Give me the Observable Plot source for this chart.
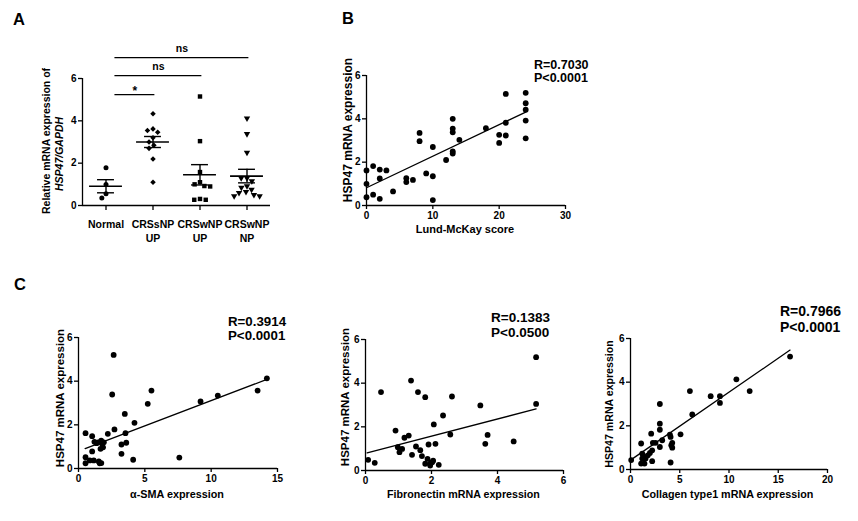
<!DOCTYPE html>
<html><head><meta charset="utf-8">
<script src="https://cdn.jsdelivr.net/npm/d3@7"></script>
<script src="https://cdn.jsdelivr.net/npm/@observablehq/plot@0.6"></script>
<style>
body{margin:0;background:#fff;}
#root{position:relative;width:858px;height:521px;overflow:hidden;background:#fff;}
#root svg{position:absolute;overflow:visible;max-width:none!important;}
</style></head><body><div id="root"></div>
<script>
// ---------- Panel A data ----------
const groupsA = ["Normal", "CRSsNP UP", "CRSwNP UP", "CRSwNP NP"];
const tickLabelsA = ["Normal", "CRSsNP\nUP", "CRSwNP\nUP", "CRSwNP\nNP"];
const normalA = [1.78, 0.99, 0.55, 0.36];
const crssnpUpA = [4.33, 3.62, 3.54, 3.46, 3.2, 3.0, 2.85, 2.7, 2.2, 1.1];
const crswnpUpA = [5.15, 3.04, 1.58, 1.1, 1.0, 0.92, 0.9, 0.31, 0.27, 0.27];
const crswnpNpA = [4.12, 3.38, 2.5, 1.3, 1.3, 1.15, 0.92, 0.85, 0.75, 0.65, 0.6, 0.5, 0.45, 0.45];
const meanA = [0.91, 3.0, 1.45, 1.39];
const semA = [0.31, 0.26, 0.48, 0.32];
const bracketFromA = ["Normal", "Normal", "Normal"];
const bracketToA = ["CRSsNP UP", "CRSwNP UP", "CRSwNP NP"];
const bracketLevelA = [5.24, 6.14, 6.99];
const bracketTextA = ["*", "ns", "ns"];
const yTicksHSP = [0, 2, 4, 6];

// ---------- Panel B data ----------
const lundX = [0,0,0,1,1,2,2,2,3,4,6,6,7,8,8,9,10,10,10,12,13,13,13,13,13,14,18,20,20,21,21,21,24,24,24,24,24];
const lundY = [1.62,1.0,0.38,1.82,0.5,1.66,1.25,0.31,1.62,0.65,1.26,1.08,1.18,3.35,2.97,1.48,2.7,1.35,0.25,2.1,4.0,3.55,3.38,2.5,2.4,3.03,3.57,3.26,2.89,5.15,3.82,3.23,5.2,4.72,4.42,3.92,3.1];
const lundFitX = [0, 24];
const lundFitY = [0.82, 4.31];
const lundTicks = [0, 10, 20, 30];
const lundStats = ["R=0.7030", "P<0.0001"];

// ---------- Panel C data ----------
const smaX = [0.53,0.53,0.53,0.85,1.03,1.03,1.15,1.2,1.36,1.48,1.53,1.6,1.66,1.71,1.72,1.78,1.85,1.91,2.21,2.54,2.65,2.71,3.24,3.24,3.49,3.54,3.6,4.12,4.22,5.22,5.5,7.6,9.2,10.5,13.5,14.2];
const smaY = [1.62,0.52,0.24,0.37,1.48,0.78,0.37,1.22,1.16,1.2,0.32,0.24,0.9,1.28,0.25,1.13,0.97,1.2,1.59,3.39,5.2,1.79,1.1,0.67,2.5,1.62,1.18,0.4,2.09,2.96,3.57,0.5,3.07,3.34,3.57,4.13];
const smaFitX = [0.5, 14.2];
const smaFitY = [0.91, 4.08];
const smaTicks = [0, 5, 10, 15];
const smaStats = ["R=0.3914", "P<0.0001"];

const fnX = [0.08,0.28,0.47,0.91,0.98,1.03,1.11,1.18,1.31,1.38,1.41,1.53,1.59,1.66,1.71,1.81,1.81,1.88,1.91,1.96,2.02,1.96,2.07,2.12,2.22,2.35,2.57,2.62,3.48,3.63,3.7,4.49,5.17,5.17,2.05];
const fnY = [0.49,0.35,3.59,1.83,1.07,0.84,0.99,1.5,1.6,4.12,0.72,1.1,3.59,0.93,0.66,3.36,0.31,0.53,1.19,0.31,0.38,0.23,2.11,1.22,0.26,2.52,1.65,3.39,2.98,1.22,1.63,1.33,5.19,3.05,0.45];
const fnFitX = [0.05, 5.17];
const fnFitY = [0.81, 2.82];
const fnTicks = [0, 2, 4, 6];
const fnStats = ["R=0.1383", "P<0.0500"];

const colX = [0.07,1.08,1.19,1.19,1.08,1.29,1.42,1.53,1.76,1.97,2.1,2.2,2.2,2.27,2.54,2.98,2.98,2.98,2.98,3.22,4.0,4.07,4.07,4.14,4.24,4.24,5.08,6.03,6.27,8.14,9.08,9.08,10.75,12.1,16.2];
const colY = [0.43,1.19,0.73,0.5,0.27,0.62,0.27,0.5,0.65,0.76,1.64,0.88,0.38,1.22,1.22,3.0,2.1,1.82,1.03,1.34,1.6,1.49,0.32,1.11,1.22,1.0,1.61,3.59,2.52,3.36,3.36,3.05,4.13,3.59,5.17];
const colFitX = [0, 16.2];
const colFitY = [0.43, 5.47];
const colTicks = [0, 5, 10, 15, 20];
const colStats = ["R=0.7966", "P<0.0001"];

// ---------- helpers ----------
const FONT = '"Liberation Sans", Arial, Helvetica, sans-serif';
const root = document.getElementById("root");
const baseStyle = {fontFamily: FONT, fontWeight: "bold", fontSize: "10px", color: "black", background: "none", overflow: "visible"};
const intFmt = d => String(d);
function place(svg, left, top) {
  svg.style.position = "absolute";
  svg.style.left = left + "px";
  svg.style.top = top + "px";
  root.appendChild(svg);
}

// downward triangle symbol
const triDown = {
  draw(context, size) {
    const a = Math.sqrt(size * 4 / Math.sqrt(3)) * 0.95;
    const h = a * Math.sqrt(3) / 2;
    context.moveTo(-a / 2, -h / 3);
    context.lineTo(a / 2, -h / 3);
    context.lineTo(0, 2 * h / 3);
    context.closePath();
  }
};

// ---------- Panel A ----------
const valuesA = [normalA, crssnpUpA, crswnpUpA, crswnpNpA];
const dataA = [];
groupsA.forEach((g, i) => valuesA[i].forEach(v => dataA.push({g, v})));
const statsA = groupsA.map((g, i) => ({g, mean: meanA[i], lo: meanA[i] - semA[i], hi: meanA[i] + semA[i]}));
const bracketsA = bracketFromA.map((f, i) => ({
  g: groupsA[0],
  x1: groupsA.indexOf(f) + 0.19,
  x2: groupsA.indexOf(bracketToA[i]) + 0.04,
  y: bracketLevelA[i],
  label: bracketTextA[i]
}));

const plotA = Plot.plot({
  width: 300, height: 250,
  marginLeft: 80, marginRight: 29, marginTop: 78, marginBottom: 45,
  style: baseStyle,
  fx: {domain: groupsA, padding: 0, axis: null},
  x: {domain: [-0.5, 0.5], axis: null},
  y: {domain: [0, 6], axis: null},
  symbol: {domain: groupsA, range: ["circle", "diamond2", "square", triDown]},
  marks: [
    Plot.ruleY([0], {strokeWidth: 1.3}),
    Plot.ruleX([{g: groupsA[0]}], {fx: "g", x: -0.5, y1: 0, y2: 6, strokeWidth: 1.3}),
    Plot.axisY({ticks: yTicksHSP, tickFormat: intFmt, tickSize: 4, tickPadding: 2, label: null, strokeWidth: 1.3}),
    Plot.axisFx({anchor: "bottom", tickSize: 5, tickPadding: 8, label: null, strokeWidth: 1.3,
      fontSize: 10.5, lineHeight: 1.3,
      tickFormat: d => tickLabelsA[groupsA.indexOf(d)]}),
    Plot.dot(dataA, Plot.dodgeX({anchor: "middle", padding: 0.8},
      {fx: "g", y: "v", r: 2.5, symbol: "g", fill: "black", stroke: "none"})),
    Plot.ruleY(statsA, {fx: "g", y: "mean", x1: -0.35, x2: 0.35, strokeWidth: 1.6}),
    Plot.ruleX(statsA, {fx: "g", x: 0, y1: "lo", y2: "hi", strokeWidth: 1.4}),
    Plot.ruleY(statsA, {fx: "g", y: "hi", x1: -0.18, x2: 0.18, strokeWidth: 1.4}),
    Plot.ruleY(statsA, {fx: "g", y: "lo", x1: -0.18, x2: 0.18, strokeWidth: 1.4}),
    Plot.ruleY(bracketsA, {fx: "g", y: "y", x1: "x1", x2: "x2", strokeWidth: 1.3}),
    Plot.text(bracketsA.filter(d => d.label === "*"), {fx: "g", x: d => (d.x1 + d.x2) / 2, y: "y", text: "label", dy: -3, fontSize: 12}),
    Plot.text(bracketsA.filter(d => d.label !== "*"), {fx: "g", x: d => (d.x1 + d.x2) / 2, y: "y", text: "label", dy: -9, fontSize: 10.5})
  ]
});
place(plotA, 0, 0);

// ---------- scatter panels ----------
function scatter(xs, ys, fitX, fitY, xTicks, dims) {
  const pts = xs.map((x, i) => ({x, y: ys[i]}));
  const fit = fitX.map((x, i) => ({x, y: fitY[i]}));
  return Plot.plot({
    width: dims.w, height: dims.h,
    marginLeft: dims.ml, marginRight: dims.mr, marginTop: dims.mt, marginBottom: dims.mb,
    style: baseStyle,
    x: {domain: [xTicks[0], xTicks[xTicks.length - 1]], axis: null},
    y: {domain: [0, 6], axis: null},
    marks: [
      Plot.ruleY([0], {strokeWidth: 1.3}),
      Plot.ruleX([0], {strokeWidth: 1.3}),
      Plot.axisX({ticks: xTicks, tickFormat: intFmt, tickSize: 4, tickPadding: 2, label: null, strokeWidth: 1.3}),
      Plot.axisY({ticks: yTicksHSP, tickFormat: intFmt, tickSize: 4, tickPadding: 2, label: null, strokeWidth: 1.3}),
      Plot.line(fit, {x: "x", y: "y", strokeWidth: 1.3}),
      Plot.dot(pts, {x: "x", y: "y", r: 2.9, fill: "black", stroke: "none"})
    ]
  });
}
place(scatter(lundX, lundY, lundFitX, lundFitY, lundTicks, {w: 270, h: 200, ml: 36, mr: 35, mt: 35, mb: 35}), 330, 40);
place(scatter(smaX, smaY, smaFitX, smaFitY, smaTicks, {w: 280, h: 200, ml: 38, mr: 43, mt: 37, mb: 32}), 40, 300);
place(scatter(fnX, fnY, fnFitX, fnFitY, fnTicks, {w: 280, h: 200, ml: 45, mr: 37, mt: 39, mb: 30}), 320, 300);
place(scatter(colX, colY, colFitX, colFitY, colTicks, {w: 268, h: 200, ml: 40, mr: 31, mt: 38, mb: 31}), 590, 300);

// ---------- text overlay ----------
const ov = d3.select(root).append("svg")
  .attr("width", 858).attr("height", 521)
  .style("left", "0px").style("top", "0px")
  .style("font-family", FONT).style("font-weight", "bold");
function txt(s, x, y, size, anchor = "start", italic = false) {
  ov.append("text").attr("x", x).attr("y", y).attr("font-size", size)
    .attr("text-anchor", anchor).attr("font-style", italic ? "italic" : "normal").text(s);
}
function vtxt(s, x, cy, size, italic = false) {
  ov.append("text").attr("transform", `translate(${x},${cy}) rotate(-90)`)
    .attr("text-anchor", "middle").attr("font-size", size)
    .attr("font-style", italic ? "italic" : "normal").text(s);
}
// panel letters
txt("A", 13, 25, 16.5);
txt("B", 342, 24, 16.5);
txt("C", 14, 290, 16.5);
// axis titles
vtxt("Relative mRNA expression of", 49.5, 141, 10.5);
vtxt("HSP47/GAPDH", 62.5, 154, 10.5, true);
vtxt("HSP47 mRNA expression", 351.5, 130, 12);
vtxt("HSP47 mRNA expression", 64, 398, 11.5);
vtxt("HSP47 mRNA expression", 349, 397, 11.5);
vtxt("HSP47 mRNA expression", 612.5, 404, 10.6);
txt("Lund-McKay score", 465, 233, 11, "middle");
txt("α-SMA expression", 177, 498, 10.8, "middle");
txt("Fibronectin mRNA expression", 463.5, 498, 10.7, "middle");
txt("Collagen type1 mRNA expression", 727.5, 498, 10.75, "middle");
// statistics
txt(lundStats[0], 534, 69, 12.5); txt(lundStats[1], 534, 82, 12.5);
txt(smaStats[0], 228, 326, 13.3); txt(smaStats[1], 228, 340, 13.3);
txt(fnStats[0], 491, 322, 13.5); txt(fnStats[1], 491, 337, 13.5);
txt(colStats[0], 780, 316, 14); txt(colStats[1], 780, 332, 14);
</script></body></html>
